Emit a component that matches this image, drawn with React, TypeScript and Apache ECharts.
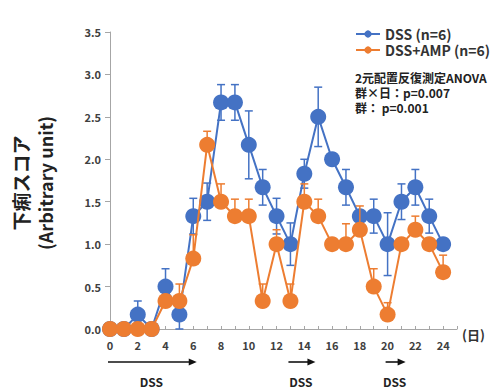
import React, { useEffect, useRef } from "react";
import * as echarts from "echarts";

const days = [0, 1, 2, 3, 4, 5, 6, 7, 8, 9, 10, 11, 12, 13, 14, 15, 16, 17, 18, 19, 20, 21, 22, 23, 24];
const dssMean = [0, 0, 0.17, 0, 0.5, 0.17, 1.33, 1.5, 2.67, 2.67, 2.17, 1.67, 1.33, 1.0, 1.83, 2.5, 2.0, 1.67, 1.33, 1.33, 1.0, 1.5, 1.67, 1.33, 1.0];
const dssErr = [0, 0, 0.16, 0, 0.21, 0.17, 0.21, 0.22, 0.21, 0.21, 0.4, 0.21, 0.21, 0.25, 0.17, 0.35, 0, 0.21, 0, 0.2, 0.37, 0.21, 0.21, 0.2, 0];
const ampMean = [0, 0, 0, 0, 0.33, 0.33, 0.83, 2.17, 1.5, 1.33, 1.33, 0.33, 1.0, 0.33, 1.5, 1.33, 1.0, 1.0, 1.17, 0.5, 0.17, 1.0, 1.17, 1.0, 0.67];
const ampErr = [0, 0, 0, 0, 0, 0.2, 0.28, 0.16, 0.21, 0.2, 0.2, 0.2, 0.17, 0.2, 0.21, 0.2, 0, 0.24, 0.28, 0.21, 0.14, 0, 0.16, 0, 0.2];
const seriesNames = ["DSS (n=6)", "DSS+AMP (n=6)"];
const dssPeriods = [
  [0, 6.25],
  [13, 14.8],
  [20, 21.3],
];
const annotationLines = ["2元配置反復測定ANOVA", "群×日：p=0.007", "群： p=0.001"];

const BLUE = "#4472C4";
const ORANGE = "#ED7D31";
const FONT = "'Noto Sans CJK JP', 'Noto Sans', sans-serif";

function errSeries(means: number[], errs: number[], color: string, both: boolean, z: number) {
  return {
    type: "custom",
    name: "err" + z,
    z,
    silent: true,
    data: days.map((d, i) => [d, means[i], errs[i]]),
    encode: { x: 0, y: 1 },
    renderItem: (_p: any, api: any) => {
      const x = api.value(0);
      const m = api.value(1);
      const e = api.value(2);
      if (!e) return { type: "group", children: [] };
      const top = api.coord([x, m + e]);
      const bot = api.coord([x, both ? Math.max(m - e, 0) : m]);
      const cw = 4;
      const st = { stroke: color, lineWidth: 1.5 };
      const children: any[] = [
        { type: "line", shape: { x1: top[0], y1: top[1], x2: bot[0], y2: bot[1] }, style: st },
        { type: "line", shape: { x1: top[0] - cw, y1: top[1], x2: top[0] + cw, y2: top[1] }, style: st },
      ];
      if (both) {
        children.push({ type: "line", shape: { x1: bot[0] - cw, y1: bot[1], x2: bot[0] + cw, y2: bot[1] }, style: st });
      }
      return { type: "group", children };
    },
  };
}

export default function App() {
  const ref = useRef<HTMLDivElement>(null);
  useEffect(() => {
    if (!ref.current) return;
    const chart = echarts.init(ref.current, undefined, { renderer: "svg" });
    const option: any = {
      animation: false,
      backgroundColor: "#ffffff",
      textStyle: { fontFamily: FONT },
      grid: { left: 110, right: 33, top: 32, bottom: 61 },
      legend: {
        data: seriesNames,
        orient: "vertical",
        left: 350,
        top: 22,
        itemWidth: 24,
        itemHeight: 9,
        itemGap: 2,
        textStyle: { fontFamily: FONT, fontSize: 14, fontWeight: "bold", color: "#333", lineHeight: 14 },
      },
      xAxis: {
        type: "value",
        min: 0,
        max: 25,
        interval: 1,
        axisLine: { lineStyle: { color: "#a6a6a6", width: 1 } },
        axisTick: { inside: true, length: 3, lineStyle: { color: "#a6a6a6" } },
        splitLine: { show: false },
        axisLabel: {
          margin: 10,
          fontSize: 11,
          fontWeight: "bold",
          color: "#404040",
          fontFamily: FONT,
          formatter: (v: number) => (v % 2 === 0 && v <= 24 ? String(v) : ""),
        },
      },
      yAxis: {
        type: "value",
        min: 0,
        max: 3.5,
        interval: 0.5,
        axisLine: { show: true, lineStyle: { color: "#a6a6a6", width: 1 } },
        axisTick: { show: true, length: 5, lineStyle: { color: "#a6a6a6" } },
        splitLine: { show: false },
        axisLabel: {
          margin: 9,
          fontSize: 11,
          fontWeight: "bold",
          color: "#404040",
          fontFamily: FONT,
          formatter: (v: number) => v.toFixed(1),
        },
      },
      series: [
        errSeries(dssMean, dssErr, BLUE, true, 1),
        {
          type: "line",
          name: seriesNames[0],
          z: 2,
          data: days.map((d, i) => [d, dssMean[i]]),
          symbol: "circle",
          symbolSize: 16,
          itemStyle: { color: BLUE },
          lineStyle: { color: BLUE, width: 2 },
        },
        errSeries(ampMean, ampErr, ORANGE, false, 3),
        {
          type: "line",
          name: seriesNames[1],
          z: 4,
          data: days.map((d, i) => [d, ampMean[i]]),
          symbol: "circle",
          symbolSize: 16,
          itemStyle: { color: ORANGE },
          lineStyle: { color: ORANGE, width: 2 },
        },
      ],
    };
    chart.setOption(option);

    const arrowY = 362;
    const graphics: any[] = [];
    dssPeriods.forEach(([a, b]) => {
      const x1 = chart.convertToPixel({ xAxisIndex: 0 }, a) as number;
      const x2 = chart.convertToPixel({ xAxisIndex: 0 }, b) as number;
      graphics.push({
        type: "line",
        shape: { x1: x1 - 2, y1: arrowY, x2: x2 - 6, y2: arrowY },
        style: { stroke: "#111", lineWidth: 1.6 },
      });
      graphics.push({
        type: "polygon",
        shape: { points: [[x2, arrowY], [x2 - 8, arrowY - 3.5], [x2 - 8, arrowY + 3.5]] },
        style: { fill: "#111" },
      });
      graphics.push({
        type: "text",
        x: (x1 + x2) / 2 - 2,
        y: 381,
        style: {
          text: "DSS",
          fontSize: 12,
          fontWeight: "bold",
          fontFamily: FONT,
          fill: "#222",
          textAlign: "center",
          textVerticalAlign: "middle",
        },
      });
    });
    annotationLines.forEach((t, i) => {
      graphics.push({
        type: "text",
        x: 355,
        y: 77.5 + i * 15,
        style: {
          text: t,
          fontSize: 12,
          lineHeight: 13,
          fontWeight: "bold",
          fontFamily: FONT,
          fill: "#222",
          textVerticalAlign: "middle",
        },
      });
    });
    graphics.push({
      type: "text",
      x: 462,
      y: 334,
      style: {
        text: "(日)",
        fontSize: 13,
        fontWeight: "bold",
        fontFamily: FONT,
        fill: "#333",
        textVerticalAlign: "middle",
      },
    });
    graphics.push({
      type: "text",
      x: 20,
      y: 183,
      rotation: Math.PI / 2,
      style: {
        text: "下痢スコア",
        fontSize: 19,
        fontWeight: "bold",
        fontFamily: FONT,
        fill: "#222",
        textAlign: "center",
        textVerticalAlign: "middle",
      },
    });
    graphics.push({
      type: "text",
      x: 45,
      y: 183,
      rotation: Math.PI / 2,
      style: {
        text: "(Arbitrary unit)",
        fontSize: 18,
        fontWeight: "bold",
        fontFamily: FONT,
        fill: "#222",
        textAlign: "center",
        textVerticalAlign: "middle",
      },
    });
    chart.setOption({ graphic: graphics });

    return () => chart.dispose();
  }, []);
  return (
    <div
      ref={ref}
      style={{ position: "fixed", left: 0, top: 0, width: 490, height: 390, background: "#fff" }}
    />
  );
}
